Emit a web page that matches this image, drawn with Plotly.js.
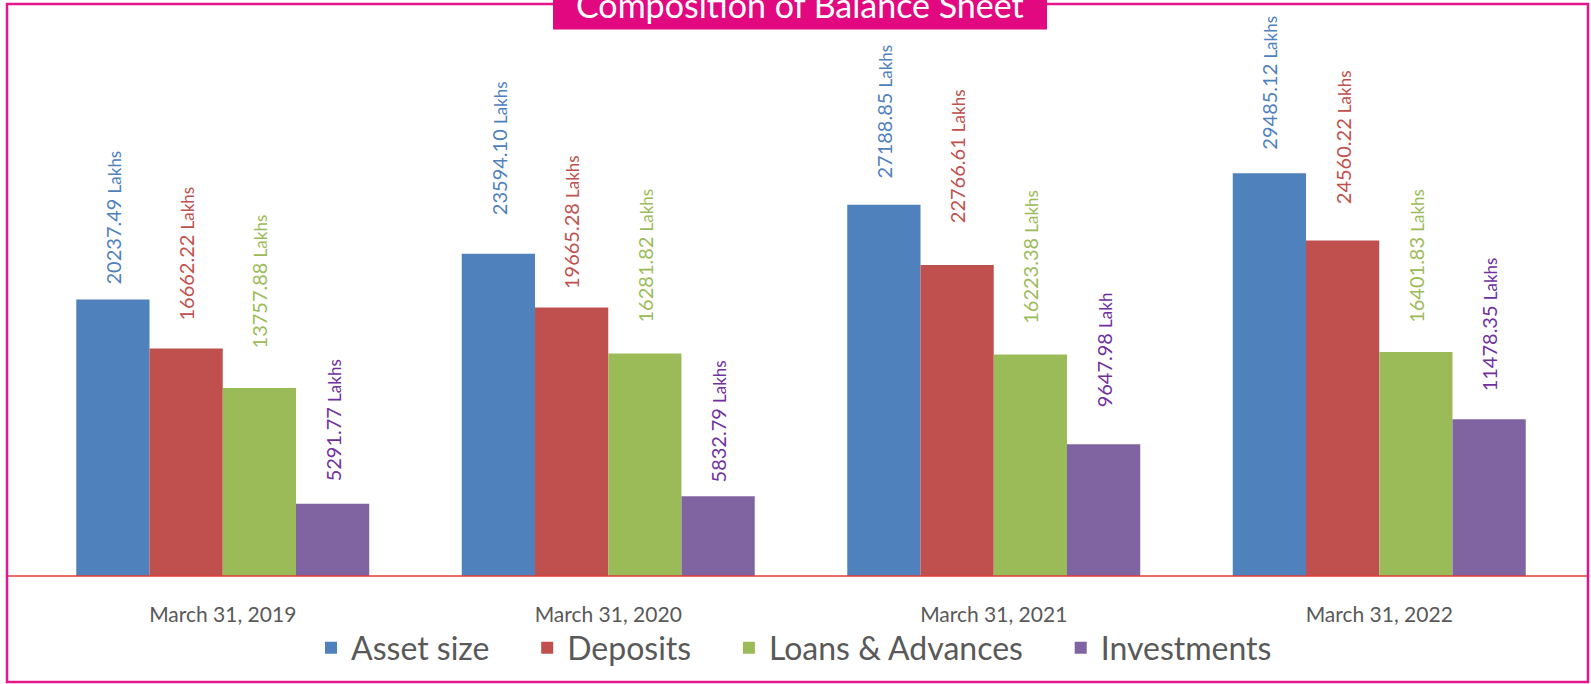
<!DOCTYPE html>
<html><head><meta charset="utf-8">
<script src="https://cdn.plot.ly/plotly-3.0.1.min.js"></script>
<style>html,body{margin:0;padding:0;background:#fff;overflow:hidden}#chart{width:1591px;height:684px}</style>
</head><body><div id="chart"></div>
<script>
// ---- data ----
const categories = ["March 31, 2019", "March 31, 2020", "March 31, 2021", "March 31, 2022"];
const seriesNames = ["Asset size", "Deposits", "Loans & Advances", "Investments"];
const assetSize = [20237.49, 23594.10, 27188.85, 29485.12];
const deposits = [16662.22, 19665.28, 22766.61, 24560.22];
const loansAdvances = [13757.88, 16281.82, 16223.38, 16401.83];
const investments = [5291.77, 5832.79, 9647.98, 11478.35];
const assetUnits = ["Lakhs", "Lakhs", "Lakhs", "Lakhs"];
const depositUnits = ["Lakhs", "Lakhs", "Lakhs", "Lakhs"];
const loanUnits = ["Lakhs", "Lakhs", "Lakhs", "Lakhs"];
const investmentUnits = ["Lakhs", "Lakhs", "Lakh", "Lakhs"];

// ---- style ----
const barColors = ["#4F81BD", "#C0504D", "#9BBB59", "#8064A2"];
const labelColors = ["#4F81BD", "#C0504D", "#9BBB59", "#7030A0"];
const labelLift = [[14, 38, 25, 23], [27, 17, 41, 35], [39, 30, 30, 28], [21, 13, 36, 27]]; // px gap above bar
const FONT = "Lato, 'Open Sans', sans-serif";
const W = 1591, H = 684;
const M = {l: 30, r: 19, t: 29, b: 108};
const plotW = W - M.l - M.r, plotH = H - M.t - M.b;
const px2x = p => (p - M.l) / plotW;
const px2y = p => (M.t + plotH - p) / plotH;
const BARGAP = 0.24;
const NBSP = "\u00a0";

const series = [assetSize, deposits, loansAdvances, investments];
const units = [assetUnits, depositUnits, loanUnits, investmentUnits];
const nS = series.length;
const barW = (1 - BARGAP) / nS;

const traces = series.map((vals, j) => ({
  type: "bar",
  name: seriesNames[j] + (j < nS - 1 ? NBSP.repeat(4) : ""),
  x: categories,
  y: vals,
  marker: {color: barColors[j], line: {width: 0}},
  hoverinfo: "skip"
}));

const annotations = [];
series.forEach((vals, j) => {
  vals.forEach((v, i) => {
    annotations.push({
      xref: "x", yref: "y",
      x: i + (j - (nS - 1) / 2) * barW,
      y: v,
      text: v.toFixed(2) + ' <span style="font-size:17px">' + units[j][i] + '</span>',
      showarrow: false,
      textangle: -90,
      xanchor: "center", yanchor: "bottom",
      yshift: labelLift[j][i],
      borderpad: 0,
      font: {family: FONT, size: 20, color: labelColors[j]}
    });
  });
});

// title
annotations.push({
  xref: "paper", yref: "paper",
  x: px2x(800), y: px2y(4.5),
  xanchor: "center", yanchor: "middle",
  text: "Composition of Balance Sheet",
  showarrow: false,
  font: {family: FONT, size: 34, color: "#FFFFFF"}
});

const shapes = [
  {type: "rect", xref: "paper", yref: "paper", x0: px2x(7), x1: px2x(1588), y0: px2y(682), y1: px2y(4),
   line: {color: "#E4168B", width: 2.5}, fillcolor: "rgba(0,0,0,0)", layer: "above"},
  {type: "rect", xref: "paper", yref: "paper", x0: px2x(553), x1: px2x(1047), y0: px2y(29.5), y1: px2y(-10),
   line: {width: 0}, fillcolor: "#E2087F", layer: "above"},
  {type: "line", xref: "paper", yref: "paper", x0: px2x(8), x1: px2x(1587), y0: 0, y1: 0,
   line: {color: "#E03C3A", width: 1.5}, layer: "above"}
];

const layout = {
  width: W, height: H,
  margin: {l: M.l, r: M.r, t: M.t, b: M.b, pad: 0, autoexpand: false},
  paper_bgcolor: "#FFFFFF", plot_bgcolor: "#FFFFFF",
  font: {family: FONT, color: "#595959"},
  barmode: "group", bargap: BARGAP, bargroupgap: 0,
  showlegend: true,
  legend: {orientation: "h", x: px2x(794), xanchor: "center", y: px2y(648), yanchor: "middle",
           font: {family: FONT, size: 32, color: "#595959"}, itemclick: false, itemdoubleclick: false,
           traceorder: "normal", bgcolor: "rgba(0,0,0,0)"},
  xaxis: {type: "category", range: [-0.5, categories.length - 0.5], showline: false, showgrid: false, zeroline: false,
          ticks: "", ticklabelstandoff: 24, tickfont: {family: FONT, size: 21, color: "#595959"}, fixedrange: true},
  yaxis: {range: [0, 40050], visible: false, showgrid: false, zeroline: false, fixedrange: true},
  annotations: annotations,
  shapes: shapes,
  hovermode: false
};

Plotly.newPlot("chart", traces, layout, {displayModeBar: false, staticPlot: true});
</script>
</body></html>
